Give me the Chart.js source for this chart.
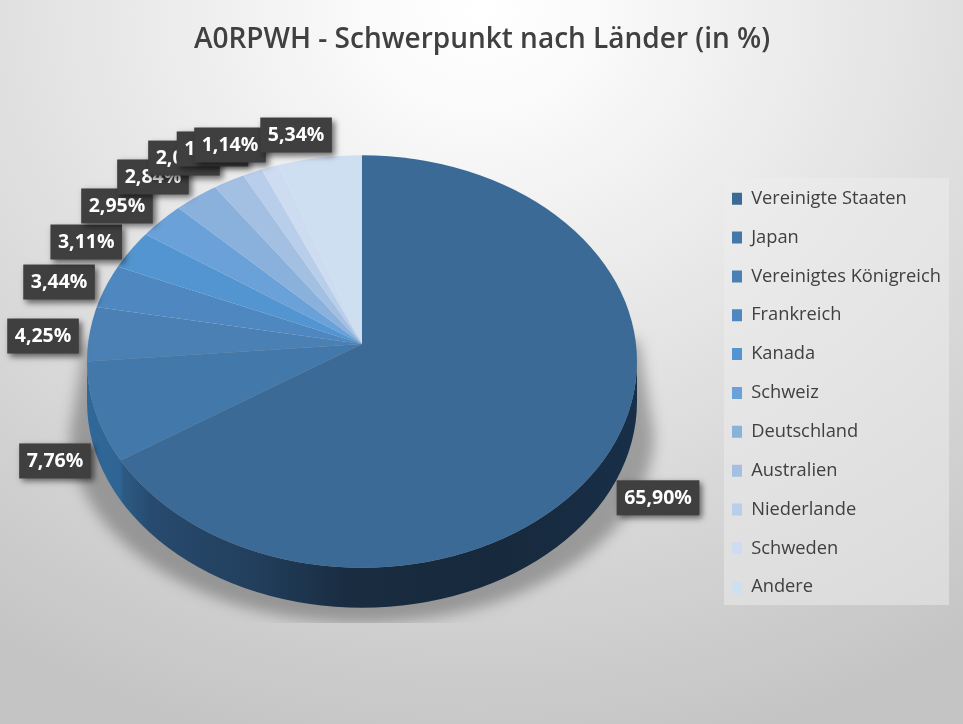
<!DOCTYPE html>
<html lang="de"><head><meta charset="utf-8">
<style>html,body{margin:0;padding:0;background:#fff}canvas{display:block}</style>
<script src="https://cdn.jsdelivr.net/npm/chart.js@4/dist/chart.umd.min.js"></script>
</head><body><canvas id="c" width="963" height="724"></canvas>
<script>
const titleText = 'A0RPWH - Schwerpunkt nach Länder (in %)';
const categories = ['Vereinigte Staaten','Japan','Vereinigtes Königreich','Frankreich','Kanada','Schweiz','Deutschland','Australien','Niederlande','Schweden','Andere'];
const shares = [65.90,7.76,4.25,3.44,3.11,2.95,2.84,2.02,1.25,1.14,5.34];
const sliceColours = ['#3b6a97','#4378ab','#4a80b4','#4f88c0','#5295d1','#6aa1d8','#8ab0dc','#a3c0e3','#b8ceea','#cddcf0','#cfdff2'];
const labelNudgeX = [54.6,-46.7,-44.3,-39.5,-34,-32.4,-31.5,-34.5,-30.8,-32.2,-20];
const labelNudgeY = [55,50.5,2.2,-2.8,-3.7,-7.2,-9.5,-10,-9,-6.8,-5.6];

const APEX = {x:362,y:344}, TILT = 0.75, ELL = {x:362,y:361.5,rx:275,ry:206.25}, DEPTH = 40;
const FONT = '"Open Sans"';

function ellipsePath(ctx, dy){ ctx.beginPath(); ctx.ellipse(ELL.x, ELL.y+(dy||0), ELL.rx, ELL.ry, 0, 0, Math.PI*2); }

const scene = {
  id:'scene',
  afterLayout(chart){
    const t = chart.titleBlock; const h = t.bottom - t.top, w = t.right - t.left;
    t.top = 23; t.bottom = 23+h; t.left = 482-w/2; t.right = 482+w/2;
    const l = chart.legend; const lh = l.bottom-l.top, lw = l.right-l.left;
    l.left = 732-l.options.labels.padding; l.right = l.left+lw; l.top = 169; l.bottom = 169+lh;
  },
  beforeDraw(chart){
    const ctx = chart.ctx;
    ctx.save();
    ctx.translate(480,10); ctx.scale(1.15,1);
    const g = ctx.createRadialGradient(0,0,0,0,0,760);
    g.addColorStop(0,'#ffffff'); g.addColorStop(.12,'#fbfbfb'); g.addColorStop(.5,'#e3e3e3'); g.addColorStop(1,'#c4c4c4');
    ctx.fillStyle = g; ctx.fillRect(-600,-20,1300,800);
    ctx.restore();
    ctx.save();
    ctx.fillStyle = 'rgba(238,238,238,.5)';
    ctx.fillRect(724,178,225,427);
    ctx.restore();
  },
  beforeDatasetsDraw(chart){
    const ctx = chart.ctx, arc = chart.getDatasetMeta(0).data[0];
    // cast shadow
    ctx.save();
    ctx.beginPath(); ctx.rect(0,300,963,323); ctx.clip();
    ctx.filter = 'blur(7px)';
    ctx.fillStyle = 'rgba(70,70,70,.42)';
    ctx.beginPath();
    ctx.moveTo(638,340); ctx.lineTo(654,433);
    ctx.ellipse(ELL.x, 433, 292, 190, 0, 0, Math.PI);
    ctx.lineTo(86,340); ctx.closePath(); ctx.fill();
    ctx.restore();
    // side wall
    ctx.save();
    const wall = ctx.createLinearGradient(ELL.x-ELL.rx,0,ELL.x+ELL.rx,0);
    wall.addColorStop(0,'#30689a'); wall.addColorStop(.06,'#2f6594'); wall.addColorStop(.066,'#2c5a84'); wall.addColorStop(.12,'#274a6e');
    wall.addColorStop(.3,'#223f5d'); wall.addColorStop(.48,'#192c40'); wall.addColorStop(.75,'#17293c'); wall.addColorStop(1,'#182f48');
    ctx.fillStyle = wall;
    ctx.beginPath();
    ctx.ellipse(ELL.x, ELL.y+DEPTH, ELL.rx, ELL.ry, 0, 0, Math.PI);
    ctx.lineTo(ELL.x-ELL.rx, ELL.y);
    ctx.ellipse(ELL.x, ELL.y, ELL.rx, ELL.ry, 0, Math.PI, 0, true);
    ctx.closePath(); ctx.fill();
    ctx.restore();
    // top face: the library's arcs, tilted about the apex and trimmed to the rim
    ctx.save();
    ellipsePath(ctx); ctx.clip();
    ctx.translate(APEX.x, APEX.y); ctx.scale(1, TILT); ctx.translate(-arc.x, -arc.y);
  },
  afterDatasetsDraw(chart){
    const ctx = chart.ctx, arcs = chart.getDatasetMeta(0).data;
    ctx.restore();
    ctx.save();
    ctx.font = '700 19.5px '+FONT; ctx.textAlign='center'; ctx.textBaseline='middle';
    arcs.forEach((a,i)=>{
      const mid = (a.startAngle+a.endAngle)/2;
      const cx = APEX.x + ELL.rx*Math.cos(mid) + labelNudgeX[i];
      const cy = APEX.y + ELL.rx*TILT*Math.sin(mid) + labelNudgeY[i];
      const text = shares[i].toFixed(2).replace('.',',')+'%';
      const w = ctx.measureText(text).width + 15, h = 35;
      ctx.save();
      ctx.shadowColor='rgba(0,0,0,.55)'; ctx.shadowBlur=6; ctx.shadowOffsetX=3; ctx.shadowOffsetY=3;
      ctx.fillStyle='#3f3f3f'; ctx.fillRect(cx-w/2,cy-h/2,w,h);
      ctx.restore();
      ctx.fillStyle='#ffffff';
      ctx.fillText(text, cx, cy+0.5);
    });
    ctx.restore();
  }
};

new Chart(document.getElementById('c').getContext('2d'), {
  type:'pie',
  data:{labels:categories, datasets:[{data:shares, backgroundColor:sliceColours, borderWidth:0, radius:330, clip:false}]},
  options:{
    responsive:false, animation:false, events:[],
    devicePixelRatio:1,
    layout:{padding:0},
    plugins:{
      tooltip:{enabled:false},
      title:{display:true, text:titleText, color:'#404040', font:{family:FONT, size:28, weight:'600', lineHeight:1.2}, padding:0},
      legend:{display:true, position:'right', align:'start',
        labels:{color:'#404040', font:{family:FONT, size:18.3}, boxWidth:10, boxHeight:12, padding:20.55}}
    }
  },
  plugins:[scene]
});
</script></body></html>
